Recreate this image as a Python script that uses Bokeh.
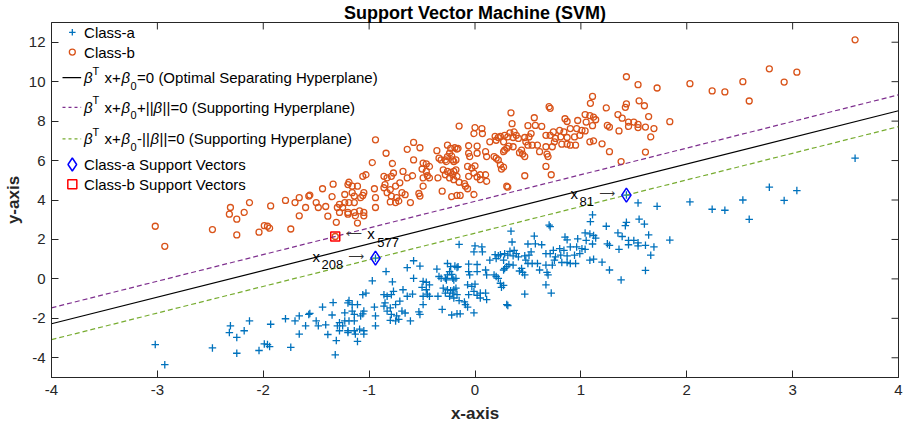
from bokeh.plotting import figure
from bokeh.models import Range1d, FixedTicker, ColumnDataSource
from bokeh.core.properties import value
from bokeh.embed import file_html
from bokeh.resources import INLINE

# ---------------- data ----------------
class_a_x = [-3.02, -2.93, -2.48, -2.31, -2.32, -2.25, -2.25, -2.18, -2.13, -2.04,
             -1.99, -1.96, -1.94, -1.93, -1.79, -1.74, -1.70, -1.66, -1.66, -1.60,
             -1.57, -1.56, -1.50, -1.48, -1.44, -1.41, -1.39, -1.35, -1.34, -1.32,
             -1.31, -1.30, -1.28, -1.28, -1.25, -1.23, -1.23, -1.20, -1.20, -1.20,
             -1.19, -1.19, -1.16, -1.16, -1.14, -1.14, -1.14, -1.13, -1.11, -1.11,
             -1.09, -1.08, -1.06, -1.06, -1.05, -1.05, -1.05, -1.03, -0.97, -0.95,
             -0.94, -0.94, -0.94, -0.86, -0.85, -0.86, -0.84, -0.83, -0.83, -0.80,
             -0.80, -0.79, -0.79, -0.78, -0.77, -0.75, -0.75, -0.74, -0.72, -0.71,
             -0.69, -0.68, -0.66, -0.64, -0.64, -0.61, -0.59, -0.58, -0.58, -0.53,
             -0.52, -0.52, -0.50, -0.49, -0.49, -0.49, -0.46, -0.46, -0.45, -0.43,
             -0.43, -0.36, -0.35, -0.34, -0.32, -0.31, -0.30, -0.28, -0.28, -0.27,
             -0.26, -0.26, -0.26, -0.24, -0.24, -0.23, -0.23, -0.22, -0.22, -0.21,
             -0.21, -0.20, -0.20, -0.20, -0.19, -0.18, -0.18, -0.17, -0.17, -0.17,
             -0.16, -0.15, -0.15, -0.14, -0.10, -0.09, -0.07, -0.07, -0.06, -0.06,
             -0.06, -0.05, -0.03, -0.01, -0.01, -0.01, 0.00, 0.00, 0.02, 0.02,
             0.02, 0.05, 0.05, 0.065, 0.07, 0.10, 0.10, 0.11, 0.11, 0.14,
             0.18, 0.19, 0.20, 0.20, 0.22, 0.22, 0.24, 0.24, 0.25, 0.27,
             0.27, 0.27, 0.28, 0.28, 0.30, 0.30, 0.31, 0.31, 0.32, 0.33,
             0.34, 0.35, 0.36, 0.36, 0.37, 0.39, 0.41, 0.42, 0.44, 0.45,
             0.47, 0.47, 0.47, 0.48, 0.50, 0.50, 0.51, 0.53, 0.54, 0.56,
             0.57, 0.59, 0.61, 0.63, 0.67, 0.67, 0.67, 0.68, 0.69, 0.70,
             0.71, 0.71, 0.72, 0.73, 0.74, 0.75, 0.76, 0.80, 0.81, 0.82,
             0.84, 0.85, 0.87, 0.87, 0.87, 0.90, 0.90, 0.94, 0.95, 0.96,
             0.97, 0.99, 1.01, 1.04, 1.04, 1.05, 1.09, 1.11, 1.085, 1.12,
             1.14, 1.11, 1.12, 1.085, 1.20, 1.24, 1.25, 1.27, 1.27, 1.35,
             1.39, 1.36, 1.38, 1.42, 1.43, 1.43, 1.45, 1.45, 1.50, 1.54,
             1.54, 1.55, 1.60, 1.61, 1.64, 1.69, 1.66, 1.61, 1.54, 1.72,
             1.84, 2.03, 2.24, 2.36, 2.53, 2.59, 2.78, 2.92, 3.04, 3.59]
class_a_y = [-3.33, -4.35, -3.50, -2.38, -2.72, -2.97, -3.77, -2.63, -2.13, -3.63,
             -3.30, -3.33, -3.43, -2.30, -2.02, -3.47, -2.13, -1.88, -2.80, -2.38,
             -1.80, -1.75, -2.13, -2.38, -1.43, -2.33, -2.82, -1.83, -1.20, -3.85,
             -3.13, -2.38, -2.22, -2.63, -2.38, -1.72, -2.13, -1.22, -2.63, -2.72,
             -1.10, -2.13, -1.30, -1.63, -1.80, -2.13, -2.63, -2.80, -1.30, -3.17,
             -2.55, -1.88, -0.80, -1.77, -1.63, -2.63, -2.80, -0.72, -0.10, -1.43,
             -1.88, -2.38, 1.05, -0.80, -1.22, -1.38, 0.37, -0.88, -1.63, -1.47,
             -2.10, -0.80, -1.80, -0.15, -0.63, -1.30, -2.13, -1.88, -2.05, -1.13,
             -1.63, -0.55, -1.73, -0.88, 0.57, -2.13, -0.77, 0.92, 0.03, -1.67,
             -1.80, 0.65, -0.43, -0.13, -0.88, -1.30, -0.17, -0.55, -0.77, -0.30,
             -0.88, 0.50, -0.88, 0.12, 0.03, -1.55, -0.47, 0.03, -0.72, -0.05,
             0.78, 0.20, -0.55, 0.37, -0.88, 0.62, -0.60, 0.23, -1.83, 0.03,
             -0.72, -0.05, -0.55, -0.97, 0.65, 0.03, -0.47, 0.58, -0.80, -1.77,
             0.62, 1.75, -1.10, -1.77, -1.17, -1.30, -0.30, -1.43, 0.37, 0.75,
             -0.80, 0.20, -0.38, 1.37, -0.63, -1.72, 1.67, -0.27, 0.37, 0.73,
             -0.83, -0.72, -0.97, 1.62, 1.37, 0.45, -0.72, 0.20, -1.05, 0.95,
             0.20, 1.23, 1.03, 0.12, 1.17, 0.03, 1.23, -0.22, -0.43, 0.95,
             0.45, -0.33, 1.28, 0.53, 0.62, -1.30, 1.20, -1.35, 0.73, 1.40,
             2.42, 1.87, 0.70, 1.17, 1.45, 1.28, 1.12, 0.40, 0.53, 0.33,
             1.17, 0.20, -0.77, 0.95, 1.77, 0.78, 1.20, 1.37, 0.78, 2.17,
             1.78, 0.78, 0.45, 1.73, 1.28, 0.70, -0.30, 0.33, 0.20, 2.73,
             2.65, 1.28, -0.72, 0.70, 1.45, 0.95, 1.12, 1.53, 1.20, 0.83,
             1.45, 2.12, 1.98, 1.17, 0.83, 1.62, 0.78, 1.20, 0.78, 1.62,
             2.03, 1.28, 1.53, 2.33, 1.50, 1.95, 2.90, 3.25, 2.28, 2.20,
             2.07, 1.77, 1.00, 0.95, 0.85, 2.67, 1.78, 1.70, 0.45, 2.33,
             2.15, 1.50, -0.05, 2.70, 2.87, 4.25, 1.95, 1.73, 1.95, 1.83,
             1.67, 3.03, 2.78, 1.70, 2.23, 1.62, 1.20, 0.43, 3.85, 3.68,
             1.97, 3.90, 3.53, 3.48, 4.00, 3.02, 4.65, 3.98, 4.48, 6.12]

class_b_x = list(class_a_x)
class_b_y = [2.67, 1.65, 2.50, 3.62, 3.28, 3.03, 2.23, 3.37, 3.87, 2.37,
             2.70, 2.67, 2.57, 3.70, 3.98, 2.53, 3.87, 4.12, 3.20, 3.62,
             4.20, 4.25, 3.87, 3.62, 4.57, 3.67, 3.18, 4.17, 4.80, 2.15,
             2.87, 3.62, 3.78, 3.37, 3.62, 4.28, 3.87, 4.78, 3.37, 3.28,
             4.90, 3.87, 4.70, 4.37, 4.20, 3.87, 3.37, 3.20, 4.70, 2.83,
             3.45, 4.12, 5.20, 4.23, 4.37, 3.37, 3.20, 5.28, 5.90, 4.57,
             4.12, 3.62, 7.05, 5.20, 4.78, 4.62, 6.37, 5.12, 4.37, 4.53,
             3.90, 5.20, 4.20, 5.85, 5.37, 4.70, 3.87, 4.12, 3.95, 4.87,
             4.37, 5.45, 4.27, 5.12, 6.57, 3.87, 5.23, 6.92, 6.03, 4.33,
             4.20, 6.65, 5.57, 5.87, 5.12, 4.70, 5.83, 5.45, 5.23, 5.70,
             5.12, 6.50, 5.12, 6.12, 6.03, 4.45, 5.53, 6.03, 5.28, 5.95,
             6.78, 6.20, 5.45, 6.37, 5.12, 6.62, 5.40, 6.23, 4.17, 6.03,
             5.28, 5.95, 5.45, 5.03, 6.65, 6.03, 5.53, 6.58, 5.20, 4.23,
             6.62, 7.75, 4.90, 4.23, 4.83, 4.70, 5.70, 4.57, 6.37, 6.75,
             5.20, 6.20, 5.62, 7.37, 5.37, 4.28, 7.67, 5.73, 6.37, 6.73,
             5.17, 5.28, 5.03, 7.62, 7.37, 6.45, 5.28, 6.20, 4.95, 6.95,
             6.20, 7.23, 7.03, 6.12, 7.17, 6.03, 7.23, 5.78, 5.57, 6.95,
             6.45, 5.67, 7.28, 6.53, 6.62, 4.70, 7.20, 4.65, 6.73, 7.40,
             8.42, 7.87, 6.70, 7.17, 7.45, 7.28, 7.12, 6.40, 6.53, 6.33,
             7.17, 6.20, 5.23, 6.95, 7.77, 6.78, 7.20, 7.37, 6.78, 8.17,
             7.78, 6.78, 6.45, 7.73, 7.28, 6.70, 5.70, 6.33, 6.20, 8.73,
             8.65, 7.28, 5.28, 6.70, 7.45, 6.95, 7.12, 7.53, 7.20, 6.83,
             7.45, 8.12, 7.98, 7.17, 6.83, 7.62, 6.78, 7.20, 6.78, 7.62,
             8.03, 7.28, 7.53, 8.33, 7.50, 7.95, 8.90, 9.25, 8.28, 8.20,
             8.07, 7.77, 7.00, 6.95, 6.85, 8.67, 7.78, 7.70, 6.45, 8.33,
             8.15, 7.50, 5.95, 8.70, 8.87, 10.25, 7.95, 7.73, 7.95, 7.83,
             7.67, 9.03, 8.78, 7.70, 8.23, 7.62, 7.20, 6.43, 9.85, 9.68,
             7.97, 9.90, 9.53, 9.48, 10.00, 9.02, 10.65, 9.98, 10.48, 12.12]

# support vectors and their index labels
sv_a_x = [-0.94, 1.43]
sv_a_y = [1.05, 4.25]
sv_a_labels = ["208", "81"]
sv_b_x = [-1.32]
sv_b_y = [2.15]
sv_b_labels = ["577"]

# hyperplanes y = slope * x + intercept
hyper_slope = 1.35
hyper_intercept_optimal = 3.126
hyper_intercept_plus = 3.932
hyper_intercept_minus = 2.319

x_ticks = [-4, -3, -2, -1, 0, 1, 2, 3, 4]
y_ticks = [-4, -2, 0, 2, 4, 6, 8, 10, 12]
x_lim = (-4, 4)
y_lim = (-5, 13)

# ---------------- styling ----------------
FONT = "Liberation Sans"
ARROW_FONT = "DejaVu Sans"
AX = "#262626"
BLUE = "#0072BD"
ORANGE = "#D95319"
PURPLE = "#7E2F8E"
GREEN = "#77AC30"

W, H = 903, 430
MB_L, MB_R, MB_T, MB_B = 46, 5, 21, 53
FW = W - MB_L - MB_R
FH = H - MB_T - MB_B

p = figure(width=W, height=H, x_range=Range1d(*x_lim), y_range=Range1d(*y_lim),
           output_backend="svg", toolbar_location=None,
           min_border_left=MB_L, min_border_right=MB_R,
           min_border_top=MB_T, min_border_bottom=MB_B)
p.grid.visible = False
p.outline_line_color = AX
p.outline_line_width = 1
p.background_fill_color = "white"
p.border_fill_color = "white"

p.title.text = "Support Vector Machine (SVM)"
p.title.align = "center"
p.title.text_font = FONT
p.title.text_font_size = "18px"
p.title.text_font_style = "bold"
p.title.text_color = "black"
p.title.standoff = 0

for ax, ticks in ((p.xaxis[0], x_ticks), (p.yaxis[0], y_ticks)):
    ax.ticker = FixedTicker(ticks=ticks)
    ax.major_label_overrides = {t: str(t) for t in ticks}
    ax.major_tick_in = 7
    ax.major_tick_out = 0
    ax.minor_tick_in = 0
    ax.minor_tick_out = 0
    ax.axis_line_color = AX
    ax.major_tick_line_color = AX
    ax.major_label_text_font = FONT
    ax.major_label_text_font_size = "15px"
    ax.major_label_text_color = AX
    ax.axis_label_text_font = FONT
    ax.axis_label_text_font_size = "17px"
    ax.axis_label_text_font_style = "bold"
    ax.axis_label_text_color = AX
p.xaxis.axis_label = "x-axis"
p.yaxis.axis_label = "y-axis"
p.xaxis.major_label_standoff = 7
p.xaxis.axis_label_standoff = 6
p.yaxis.major_label_standoff = 6
p.yaxis.axis_label_standoff = 3

# ticks on the top and right sides of the box
tick_px = 7
ty = tick_px * (y_lim[1] - y_lim[0]) / FH
tx = tick_px * (x_lim[1] - x_lim[0]) / FW
p.segment(x0=x_ticks, y0=[y_lim[1]] * len(x_ticks), x1=x_ticks,
          y1=[y_lim[1] - ty] * len(x_ticks), line_color=AX, line_width=1)
p.segment(x0=[x_lim[1]] * len(y_ticks), y0=y_ticks, x1=[x_lim[1] - tx] * len(y_ticks),
          y1=y_ticks, line_color=AX, line_width=1)

# ---------------- data glyphs ----------------
p.scatter(class_a_x, class_a_y, marker="cross", size=7.5, line_color=BLUE, line_width=1.3)
p.scatter(class_b_x, class_b_y, marker="circle", size=6, fill_color=None,
          line_color=ORANGE, line_width=1.3)

lx = list(x_lim)
p.line(lx, [hyper_slope * v + hyper_intercept_optimal for v in lx], line_color="black", line_width=1.2)
p.line(lx, [hyper_slope * v + hyper_intercept_plus for v in lx], line_color=PURPLE,
       line_width=1.2, line_dash="5 3")
p.line(lx, [hyper_slope * v + hyper_intercept_minus for v in lx], line_color=GREEN,
       line_width=1.2, line_dash="5 3")

p.scatter(sv_a_x, sv_a_y, marker="diamond", size=14, fill_color=None, line_color="blue", line_width=1.5)
p.scatter(sv_b_x, sv_b_y, marker="square", size=9, fill_color=None, line_color="red", line_width=1.5)


def txt(x, y, s, dx=0, dy=0, size=15, style="normal", align="left", color="black", font=FONT):
    src = ColumnDataSource(dict(x=[x], y=[y], t=[s]))
    p.text(x="x", y="y", text="t", source=src, x_offset=dx, y_offset=dy,
           text_font=value(font), text_font_size=value(f"{size}px"),
           text_font_style=style, text_align=align, text_baseline="middle",
           text_color=color)


# support vector annotations (thin long arrows)
txt(sv_b_x[0], sv_b_y[0], "\u27f5", dx=11, dy=-3, size=11, font=ARROW_FONT, color="#333333")
txt(sv_b_x[0], sv_b_y[0], "x", dx=32, dy=-3)
txt(sv_b_x[0], sv_b_y[0], sv_b_labels[0], dx=42, dy=6, size=13)
for i in range(len(sv_a_x)):
    dx_x = -63 if i == 0 else -56
    txt(sv_a_x[i], sv_a_y[i], "x", dx=dx_x, dy=-2)
    txt(sv_a_x[i], sv_a_y[i], sv_a_labels[i], dx=dx_x + 9, dy=6, size=13)
    txt(sv_a_x[i], sv_a_y[i], "\u27f6", dx=-27, dy=-2, size=11, font=ARROW_FONT, color="#333333")

# ---------------- manual legend (positions in reference pixels) ----------------
def px2x(px):
    return (px - 483) / 107.8


def py2y(py):
    return (284 - py) / 20.0


ICON = px2x(73)
TX = px2x(85)
rows = [34, 54, 80, 110, 142, 168, 188]

p.scatter([ICON], [py2y(rows[0])], marker="cross", size=6.5, line_color=BLUE, line_width=1.3)
txt(TX, py2y(rows[0]), "Class-a")
p.scatter([ICON], [py2y(rows[1])], marker="circle", size=6, fill_color=None,
          line_color=ORANGE, line_width=1.3)
txt(TX, py2y(rows[1]), "Class-b")

p.line([px2x(63), px2x(82)], [py2y(rows[2])] * 2, line_color="black", line_width=1.2)
p.line([px2x(63), px2x(82)], [py2y(rows[3])] * 2, line_color=PURPLE, line_width=1.2, line_dash="3 3")
p.line([px2x(63), px2x(82)], [py2y(rows[4])] * 2, line_color=GREEN, line_width=1.2, line_dash="3 3")

tails = [
    [("=0 (Optimal Separating Hyperplane)", 53, "normal")],
    [("+||", 53, "normal"), ("\u03b2", 69.5, "italic"), ("||=0 (Supporting Hyperplane)", 78.5, "normal")],
    [("-||", 53, "normal"), ("\u03b2", 66.5, "italic"), ("||=0 (Supporting Hyperplane)", 75.5, "normal")],
]
for r, tail in zip(rows[2:5], tails):
    yy = py2y(r)
    txt(TX, yy, "\u03b2", dx=0, style="italic")
    txt(TX, yy, "T", dx=8.5, dy=-7, size=11)
    txt(TX, yy, "x+", dx=20.5)
    txt(TX, yy, "\u03b2", dx=37.5, style="italic")
    txt(TX, yy, "0", dx=46.5, dy=8, size=11)
    for s, dx, st in tail:
        txt(TX, yy, s, dx=dx, style=st)

p.scatter([ICON], [py2y(rows[5])], marker="diamond", size=13, fill_color=None,
          line_color="blue", line_width=1.5)
txt(TX, py2y(rows[5]), "Class-a Support Vectors")
p.scatter([ICON], [py2y(rows[6])], marker="square", size=9, fill_color=None,
          line_color="red", line_width=1.5)
txt(TX, py2y(rows[6]), "Class-b Support Vectors")

open("out.html", "w").write(file_html(p, INLINE))
